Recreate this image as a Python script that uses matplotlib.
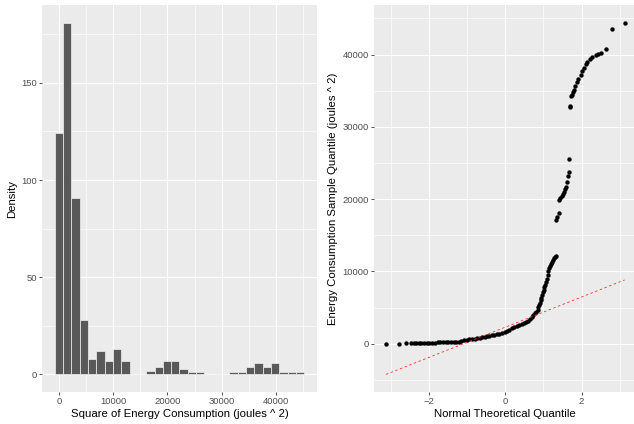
import numpy as np
import matplotlib.pyplot as plt

plt.rcParams['font.family'] = ['Liberation Sans', 'DejaVu Sans']

# counts per bin (30 equal-width bins spanning the sample range)
bin_counts = [124, 181, 91, 28, 8, 12, 7, 13, 7, 0, 0, 2, 4, 7, 7, 3, 1, 1,
              0, 0, 0, 1, 1, 4, 6, 4, 6, 1, 1, 1]

# normal QQ plot points: theoretical quantile / sample quantile
qq_theoretical = [
    -3.12, -2.77, -2.60, -2.47, -2.39,
    -2.33, -2.26, -2.19, -2.12, -2.05, -1.98, -1.91, -1.84, -1.77, -1.70,
    -1.63, -1.56, -1.49, -1.42, -1.35, -1.28, -1.21, -1.15, -1.08, -1.01,
    -0.94, -0.87, -0.80, -0.73, -0.67, -0.60, -0.53, -0.47, -0.41, -0.35,
    -0.28, -0.22, -0.15, -0.08, 0.00, 0.06, 0.11, 0.18, 0.24, 0.30,
    0.37, 0.43, 0.50, 0.55, 0.60, 0.65, 0.70, 0.74, 0.78, 0.82,
    0.85, 0.87, 0.89, 0.91, 0.93, 0.95, 0.97, 0.99, 1.01, 1.03,
    1.05, 1.07, 1.09, 1.11, 1.13, 1.15, 1.17, 1.20, 1.23, 1.26,
    1.29, 1.31, 1.33,
    1.33, 1.35, 1.40,
    1.41, 1.45, 1.48, 1.51, 1.54, 1.57, 1.59, 1.62, 1.64, 1.66, 1.68,
    1.69, 1.70, 1.73, 1.76, 1.78, 1.80, 1.83, 1.87, 1.92, 1.98,
    2.02, 2.07, 2.11, 2.14, 2.21, 2.28, 2.37, 2.44, 2.51, 2.64,
    2.79, 3.13,
]
qq_sample = [
    30, 40, 50, 60, 70,
    90, 100, 110, 120, 130, 140, 150, 170, 230, 240,
    250, 255, 260, 270, 280, 290, 310, 400, 460, 530,
    610, 670, 730, 790, 850, 900, 970, 1040, 1110, 1180,
    1260, 1330, 1420, 1520, 1640, 1780, 1920, 2150, 2350, 2500,
    2620, 2750, 2900, 3030, 3200, 3400, 3700, 3950, 4200, 4450,
    4700, 5050, 5400, 5700, 6000, 6400, 6800, 7200, 7500, 7800,
    8150, 8500, 9000, 9500, 10000, 10500, 10800, 11050, 11300, 11550,
    11800, 12000, 12150,
    17133, 17507, 18061,
    19903, 20200, 20457, 20750, 21053, 21400, 21745, 22438, 23227, 23823, 25582,
    32687, 32922, 34211, 34446, 34800, 35042, 35596, 36150, 36662, 37216,
    37673, 38144, 38740, 39017, 39391, 39668, 39945, 40083, 40222, 40817,
    43545, 44418,
]

# reference line through the quartiles
line_intercept = 2290
line_slope = 2090

panel_bg = '#EBEBEB'
tick_color = '#4D4D4D'


def gg_style(ax):
    ax.set_facecolor(panel_bg)
    for s in ax.spines.values():
        s.set_visible(False)
    ax.grid(True, which='major', color='white', linewidth=0.85)
    ax.grid(True, which='minor', color='white', linewidth=0.45)
    ax.set_axisbelow(True)
    ax.tick_params(which='major', length=2.2, width=0.6, color='#333333',
                   labelcolor=tick_color, labelsize=6.8, pad=1.5)
    ax.tick_params(which='minor', length=0)


fig = plt.figure(figsize=(6.34, 4.24), dpi=100)
ax1 = fig.add_axes([42.3 / 634, 32 / 424, 274.4 / 634, 387 / 424])
ax2 = fig.add_axes([374 / 634, 32 / 424, 262.6 / 634, 387 / 424])

# histogram: ggplot-style bins centred on min .. max
lo, hi = min(qq_sample), max(qq_sample)
width = (hi - lo) / (len(bin_counts) - 1)
centers = lo + width * np.arange(len(bin_counts))
ax1.bar(centers, bin_counts, width=width, color='#595959',
        edgecolor='#F2F2F2', linewidth=0.5)
left_edge, right_edge = centers[0] - width / 2, centers[-1] + width / 2
pad = 0.05 * (right_edge - left_edge)
ax1.set_xlim(left_edge - pad, right_edge + pad)
ax1.set_ylim(-0.05 * max(bin_counts), 1.05 * max(bin_counts))
ax1.set_xticks([0, 10000, 20000, 30000, 40000])
ax1.set_xticks([5000, 15000, 25000, 35000, 45000], minor=True)
ax1.set_yticks([0, 50, 100, 150])
ax1.set_yticks([25, 75, 125, 175], minor=True)
gg_style(ax1)
ax1.set_xlabel('Square of Energy Consumption (joules ^ 2)', fontsize=8.2, labelpad=2)
ax1.set_ylabel('Density', fontsize=8.2, labelpad=3)

# QQ plot
tq = np.array(qq_theoretical)
xline = np.array([tq.min(), tq.max()])
yline = line_intercept + line_slope * xline
ax2.scatter(tq, qq_sample, s=10, color='black', linewidths=0, zorder=3)
ax2.plot(xline, yline, color='#FF3030', linewidth=0.6, dashes=(3, 3), zorder=4)
xr = tq.max() - tq.min()
ax2.set_xlim(tq.min() - 0.05 * xr, tq.max() + 0.05 * xr)
ymin = min(min(qq_sample), yline.min())
ymax = max(max(qq_sample), yline.max())
yr = ymax - ymin
ax2.set_ylim(ymin - 0.05 * yr, ymax + 0.05 * yr)
ax2.set_xticks([-2, 0, 2])
ax2.set_xticks([-3, -1, 1, 3], minor=True)
ax2.set_yticks([0, 10000, 20000, 30000, 40000])
ax2.set_yticks([-5000, 5000, 15000, 25000, 35000, 45000], minor=True)
gg_style(ax2)
ax2.set_xlabel('Normal Theoretical Quantile', fontsize=8.2, labelpad=2)
ax2.set_ylabel('Energy Consumption Sample Quantile (joules ^ 2)', fontsize=8.2, labelpad=3)

fig.savefig('out.png', dpi=100)
